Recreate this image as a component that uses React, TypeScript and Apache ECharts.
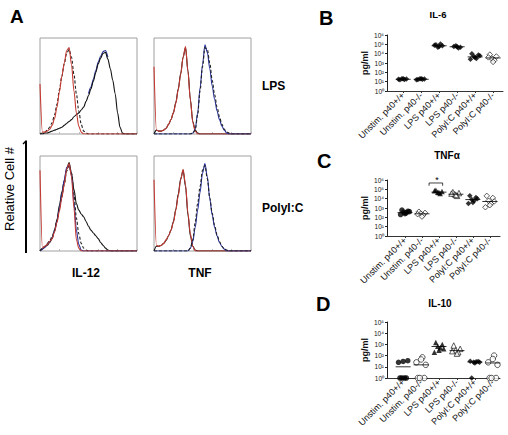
import React, { useEffect, useRef } from 'react';
import * as echarts from 'echarts';

const FONT = '"Liberation Sans", Arial, Helvetica, sans-serif';

// ---------- Panel A: flow cytometry histograms (height per channel bin, 41 bins) ----------
const channels = Array.from({ length: 41 }, (_, i) => String(i));

const il12LpsRed = [0.52, 0.02, 0.02, 0.03, 0.05, 0.09, 0.16, 0.28, 0.44, 0.6, 0.74, 0.87, 0.9, 0.72, 0.45, 0.22, 0.08, 0.02, 0, 0, 0, 0, 0, 0, 0, 0, 0, 0, 0, 0, 0, 0, 0, 0, 0, 0, 0, 0, 0, 0, 0];
const il12LpsDashed = [0, 0.01, 0.02, 0.04, 0.07, 0.12, 0.2, 0.31, 0.46, 0.6, 0.73, 0.84, 0.88, 0.8, 0.62, 0.42, 0.24, 0.1, 0.03, 0.01, 0, 0, 0, 0, 0, 0, 0, 0, 0, 0, 0, 0, 0, 0, 0, 0, 0, 0, 0, 0, 0];
const il12LpsBlack = [0, 0, 0.01, 0.01, 0.02, 0.03, 0.04, 0.05, 0.06, 0.07, 0.09, 0.11, 0.13, 0.15, 0.18, 0.2, 0.22, 0.25, 0.28, 0.34, 0.4, 0.47, 0.55, 0.64, 0.73, 0.79, 0.84, 0.85, 0.78, 0.68, 0.56, 0.42, 0.22, 0.07, 0.01, 0, 0, 0, 0, 0, 0];
const il12LpsBlue = [null, null, null, null, null, null, null, null, null, null, null, null, null, null, null, null, null, null, null, null, 0.42, 0.49, 0.57, 0.66, 0.75, 0.81, 0.86, 0.87, 0.8, null, null, null, null, null, null, null, null, null, null, null, null];

const tnfLpsRed = [0.7, 0.04, 0.03, 0.03, 0.04, 0.06, 0.1, 0.15, 0.22, 0.32, 0.46, 0.62, 0.8, 0.91, 0.65, 0.35, 0.12, 0.03, 0, 0, 0, 0, 0, 0, 0, 0, 0, 0, 0, 0, 0, 0, 0, 0, 0, 0, 0, 0, 0, 0, 0];
const tnfLpsBlack = [0, 0.04, 0.03, 0.03, 0.04, 0.06, 0.1, 0.15, 0.22, 0.33, 0.47, 0.63, 0.8, 0.9, 0.66, 0.36, 0.13, 0.04, 0.01, 0, 0, 0, 0, 0, 0, 0, 0, 0, 0, 0, 0, 0, 0, 0, 0, 0, 0, 0, 0, 0, 0];
const tnfLpsBlue = [0, 0, 0, 0, 0, 0, 0, 0, 0, 0, 0, 0, 0, 0, 0, 0, 0.01, 0.05, 0.22, 0.48, 0.72, 0.93, 0.85, 0.68, 0.5, 0.36, 0.24, 0.15, 0.08, 0.04, 0.01, 0, 0, 0, 0, 0, 0, 0, 0, 0, 0];
const tnfLpsDashed = [0, 0, 0, 0, 0, 0, 0, 0, 0, 0, 0, 0, 0, 0, 0, 0, 0.01, 0.04, 0.2, 0.45, 0.7, 0.9, 0.88, 0.74, 0.56, 0.41, 0.28, 0.18, 0.1, 0.05, 0.02, 0.01, 0, 0, 0, 0, 0, 0, 0, 0, 0];

const il12PicRed = [0.85, 0.03, 0.05, 0.07, 0.1, 0.13, 0.2, 0.3, 0.42, 0.56, 0.7, 0.86, 0.92, 0.78, 0.45, 0.12, 0.03, 0, 0, 0, 0, 0, 0, 0, 0, 0, 0, 0, 0, 0, 0, 0, 0, 0, 0, 0, 0, 0, 0, 0, 0];
const il12PicDashed = [0, 0.03, 0.05, 0.08, 0.11, 0.15, 0.22, 0.32, 0.44, 0.57, 0.7, 0.84, 0.9, 0.82, 0.6, 0.35, 0.18, 0.08, 0.03, 0.01, 0, 0, 0, 0, 0, 0, 0, 0, 0, 0, 0, 0, 0, 0, 0, 0, 0, 0, 0, 0, 0];
const il12PicBlack = [0, 0.02, 0.04, 0.06, 0.09, 0.13, 0.22, 0.33, 0.48, 0.62, 0.74, 0.86, 0.93, 0.82, 0.65, 0.5, 0.43, 0.39, 0.36, 0.31, 0.26, 0.22, 0.19, 0.16, 0.13, 0.09, 0.06, 0.03, 0.01, 0, 0, 0, 0, 0, 0, 0, 0, 0, 0, 0, 0];
const il12PicBlue = [0, 0.02, 0.04, 0.07, 0.1, 0.14, 0.21, 0.31, 0.45, 0.6, 0.75, 0.88, 0.9, 0.8, 0.52, 0.22, 0.07, 0.01, 0, 0, 0, 0, 0, 0, 0, 0, 0, 0, 0, 0, 0, 0, 0, 0, 0, 0, 0, 0, 0, 0, 0];

const tnfPicRed = [0.75, 0.06, 0.05, 0.06, 0.08, 0.12, 0.16, 0.22, 0.3, 0.43, 0.58, 0.75, 0.86, 0.7, 0.4, 0.18, 0.05, 0, 0, 0, 0, 0, 0, 0, 0, 0, 0, 0, 0, 0, 0, 0, 0, 0, 0, 0, 0, 0, 0, 0, 0];
const tnfPicBlack = [0, 0.05, 0.05, 0.06, 0.08, 0.11, 0.16, 0.22, 0.31, 0.44, 0.6, 0.76, 0.85, 0.68, 0.38, 0.16, 0.05, 0.01, 0, 0, 0, 0, 0, 0, 0, 0, 0, 0, 0, 0, 0, 0, 0, 0, 0, 0, 0, 0, 0, 0, 0];
const tnfPicBlue = [0, 0, 0, 0, 0, 0, 0, 0, 0, 0, 0, 0, 0, 0, 0, 0.03, 0.1, 0.25, 0.43, 0.62, 0.82, 0.92, 0.78, 0.55, 0.38, 0.25, 0.16, 0.09, 0.05, 0.02, 0, 0, 0, 0, 0, 0, 0, 0, 0, 0, 0];
const tnfPicDashed = [0, 0, 0, 0, 0, 0, 0, 0, 0, 0, 0, 0, 0, 0, 0, 0.03, 0.12, 0.3, 0.5, 0.68, 0.85, 0.9, 0.76, 0.56, 0.4, 0.27, 0.17, 0.1, 0.05, 0.02, 0.01, 0, 0, 0, 0, 0, 0, 0, 0, 0, 0];

// ---------- Panels B-D: cytokines (pg/ml) ----------
const groups = ['Unstim. p40+/+', 'Unstim. p40-/-', 'LPS p40+/+', 'LPS p40-/-', 'PolyI:C p40+/+', 'PolyI:C p40-/-'];
const decadeLabels = ['10⁰', '10¹', '10²', '10³', '10⁴', '10⁵', '10⁶'];

const il6Values = [
  [16, 19, 21, 17, 20, 18],
  [17, 19, 20, 18, 21, 16],
  [9e4, 7e4, 5e4, 1.1e5, 6e4, 8e4],
  [6e4, 5e4, 7e4, 4e4, 5.5e4],
  [1e4, 7e3, 5e3, 3e3, 4e3, 2.5e3, 6e3],
  [8e3, 5e3, 3e3, 2e3, 1.3e3, 4e3],
];
const il6Means = [18, 18, 7e4, 5.5e4, 4.5e3, 3.5e3];

const tnfValues = [
  [600, 450, 350, 300, 250, 200, 400],
  [400, 300, 250, 180, 120, 220],
  [8e4, 6e4, 5e4, 3.5e4, 4.5e4, 7e4],
  [5e4, 4e4, 3e4, 2e4, 2.5e4, 3.5e4],
  [2e4, 1.3e4, 8e3, 6e3, 4e3, 3e3, 1e4],
  [2e4, 1.2e4, 6e3, 3e3, 2e3, 1.2e3, 5e3],
];
const tnfMeans = [320, 240, 5e4, 3e4, 8e3, 5e3];

const il10Values = [
  [1, 1, 1, 1, 30, 25, 35],
  [1, 1, 1, 70, 45, 25, 15],
  [1500, 1000, 700, 500, 300, 200, 400],
  [800, 400, 300, 200, 150, 250],
  [1, 30, 25, 28, 22, 32, 26],
  [1, 1, 1, 100, 50, 25, 15],
];
const il10Means = [10, 15, 650, 280, 27, 22];

const jitter = [-0.18, 0.18, -0.07, 0.07, 0, -0.26, 0.26];

type Marker = { symbol: string; filled: boolean };
const il6Markers: Marker[] = [
  { symbol: 'diamond', filled: true }, { symbol: 'diamond', filled: true },
  { symbol: 'diamond', filled: true }, { symbol: 'diamond', filled: true },
  { symbol: 'diamond', filled: true }, { symbol: 'diamond', filled: false },
];
const tnfMarkers: Marker[] = [
  { symbol: 'circle', filled: true }, { symbol: 'diamond', filled: false },
  { symbol: 'triangle', filled: true }, { symbol: 'triangle', filled: false },
  { symbol: 'diamond', filled: true }, { symbol: 'diamond', filled: false },
];
const il10Markers: Marker[] = [
  { symbol: 'circle', filled: true }, { symbol: 'circle', filled: false },
  { symbol: 'triangle', filled: true }, { symbol: 'triangle', filled: false },
  { symbol: 'diamond', filled: true }, { symbol: 'circle', filled: false },
];

const RED = '#c43a32';
const BLUE = '#27329a';

function buildOption() {
  const grid: any[] = [];
  const xAxis: any[] = [];
  const yAxis: any[] = [];
  const series: any[] = [];

  const histBoxes = [
    { left: 40, top: 38, width: 97, height: 96 },
    { left: 154, top: 38, width: 97, height: 96 },
    { left: 40, top: 156, width: 97, height: 95 },
    { left: 154, top: 156, width: 97, height: 95 },
  ];
  const histCurves: { data: (number | null)[]; color: string; dashed?: boolean }[][] = [
    [
      { data: il12LpsBlue, color: BLUE },
      { data: il12LpsBlack, color: '#111' },
      { data: il12LpsDashed, color: '#222', dashed: true },
      { data: il12LpsRed, color: RED },
    ],
    [
      { data: tnfLpsBlack, color: '#111' },
      { data: tnfLpsRed, color: RED },
      { data: tnfLpsBlue, color: BLUE },
      { data: tnfLpsDashed, color: '#222', dashed: true },
    ],
    [
      { data: il12PicBlack, color: '#111' },
      { data: il12PicBlue, color: BLUE },
      { data: il12PicDashed, color: '#222', dashed: true },
      { data: il12PicRed, color: RED },
    ],
    [
      { data: tnfPicBlack, color: '#111' },
      { data: tnfPicRed, color: RED },
      { data: tnfPicBlue, color: BLUE },
      { data: tnfPicDashed, color: '#222', dashed: true },
    ],
  ];

  histBoxes.forEach((b, gi) => {
    grid.push({ ...b, show: true, borderColor: '#a0a0a0', borderWidth: 1, containLabel: false });
    xAxis.push({
      gridIndex: gi, type: 'category', data: channels, boundaryGap: false,
      axisLine: { show: false }, axisLabel: { show: false },
      axisTick: { show: true, inside: true, length: 2, interval: 7, lineStyle: { color: '#bbb' } },
      splitLine: { show: false },
    });
    yAxis.push({ gridIndex: gi, type: 'value', min: 0, max: 1, show: false, splitLine: { show: false } });
    histCurves[gi].forEach((c) => {
      series.push({
        type: 'line', xAxisIndex: gi, yAxisIndex: gi, data: c.data,
        showSymbol: false, smooth: 0.3, smoothMonotone: 'x', connectNulls: false,
        lineStyle: { color: c.color, width: 1.1, type: c.dashed ? [3, 2] : 'solid' },
        silent: true,
      });
    });
  });

  const panels = [
    { values: il6Values, means: il6Means, markers: il6Markers, box: { left: 387, top: 35, width: 116, height: 56 }, xMin: -0.9, xMax: 5.55, yMax: 1e6 },
    { values: tnfValues, means: tnfMeans, markers: tnfMarkers, box: { left: 387, top: 180, width: 113, height: 56 }, xMin: -1.06, xMax: 5.6, yMax: 1e6 },
    { values: il10Values, means: il10Means, markers: il10Markers, box: { left: 387, top: 322, width: 113, height: 56 }, xMin: -0.9, xMax: 5.4, yMax: 1e5 },
  ];

  panels.forEach((p, pi) => {
    const gi = 4 + pi;
    grid.push({ ...p.box, containLabel: false });
    xAxis.push({
      gridIndex: gi, type: 'value', min: p.xMin, max: p.xMax,
      axisLine: { show: true, onZero: false, lineStyle: { color: '#333', width: 1 } },
      axisTick: { show: true, length: 2, customValues: [0, 1, 2, 3, 4, 5], lineStyle: { color: '#333' } },
      axisLabel: {
        customValues: [0, 1, 2, 3, 4, 5], rotate: 45, margin: 3,
        formatter: (v: number) => groups[Math.round(v)] ?? '',
        fontSize: 9, color: '#111', fontFamily: FONT,
      },
      splitLine: { show: false },
    });
    yAxis.push({
      gridIndex: gi, type: 'log', logBase: 10, min: 1, max: p.yMax, splitNumber: p.yMax === 1e6 ? 6 : 5,
      name: 'pg/ml', nameLocation: 'middle', nameGap: 18, nameRotate: 90,
      nameTextStyle: { fontSize: 9, fontWeight: 'bold', color: '#111', fontFamily: FONT },
      axisLine: { show: true, onZero: false, lineStyle: { color: '#222', width: 1 } },
      axisTick: { show: true, length: 2, lineStyle: { color: '#222' } },
      minorTick: { show: false },
      axisLabel: {
        fontSize: 6.5, color: '#111', margin: 3, fontFamily: FONT,
        formatter: (v: number) => decadeLabels[Math.round(Math.log10(v))] ?? '',
      },
      splitLine: { show: false },
    });
    p.values.forEach((vals, i) => {
      const m = p.markers[i];
      series.push({
        type: 'scatter', xAxisIndex: gi, yAxisIndex: gi, clip: false,
        symbol: m.symbol, symbolSize: 5.5,
        itemStyle: { color: m.filled ? '#000' : '#fff', borderColor: '#000', borderWidth: m.filled ? 0 : 0.8 },
        data: vals.map((v, k) => [i + jitter[k % jitter.length], v]),
        silent: true, z: 3,
      });
    });
    series.push({
      type: 'scatter', xAxisIndex: gi, yAxisIndex: gi, clip: false,
      symbol: 'rect', symbolSize: [15, 1],
      itemStyle: { color: '#000' },
      data: p.means.map((m, i) => [i, m]),
      silent: true, z: 4,
    });
  });

  // significance bracket in TNF panel (between group positions)
  series.push({
    type: 'line', xAxisIndex: 5, yAxisIndex: 5, showSymbol: false,
    data: [[1.42, 2.4e5], [1.42, 4.8e5], [2.22, 4.8e5], [2.22, 2.4e5]],
    lineStyle: { color: '#111', width: 0.8 }, silent: true,
  });

  const t = (text: string, x: number, y: number, size: number, bold = true, align = 'center', extra: any = {}) => ({
    type: 'text', x, y, ...extra,
    style: {
      text, fill: '#000', fontSize: size, fontWeight: bold ? 'bold' : 'normal', fontFamily: FONT,
      textAlign: align, textVerticalAlign: 'middle', align, verticalAlign: 'middle',
    },
  });

  const graphic = [
    t('A', 10, 16, 19, true, 'left'),
    t('B', 319, 18, 20, true, 'left'),
    t('C', 317, 161, 20, true, 'left'),
    t('D', 316, 304, 20, true, 'left'),
    t('IL-6', 438, 14, 9.5),
    t('TNFα', 447, 155, 10),
    t('IL-10', 440, 303, 10),
    t('*', 437, 180, 9, false),
    t('LPS', 262, 86, 12, true, 'left'),
    t('PolyI:C', 262, 208, 12, true, 'left'),
    t('IL-12', 86, 273, 12),
    t('TNF', 200, 273, 12),
    t('Relative Cell #', 9, 189, 13, false, 'center', { rotation: Math.PI / 2 }),
    { type: 'line', shape: { x1: 26, y1: 141, x2: 26, y2: 253 }, style: { stroke: '#000', lineWidth: 2 } },
    { type: 'line', shape: { x1: 26.5, y1: 140.5, x2: 23, y2: 144 }, style: { stroke: '#000', lineWidth: 1.5 } },
  ];

  return {
    animation: false,
    backgroundColor: '#fff',
    textStyle: { fontFamily: FONT },
    grid, xAxis, yAxis, series, graphic,
  };
}

export default function App() {
  const ref = useRef<HTMLDivElement>(null);
  useEffect(() => {
    if (!ref.current) return;
    const chart = echarts.init(ref.current, undefined, { renderer: 'svg' });
    chart.setOption(buildOption() as any);
    return () => chart.dispose();
  }, []);
  return <div ref={ref} style={{ width: 508, height: 435, position: 'absolute', left: 0, top: 0 }} />;
}
